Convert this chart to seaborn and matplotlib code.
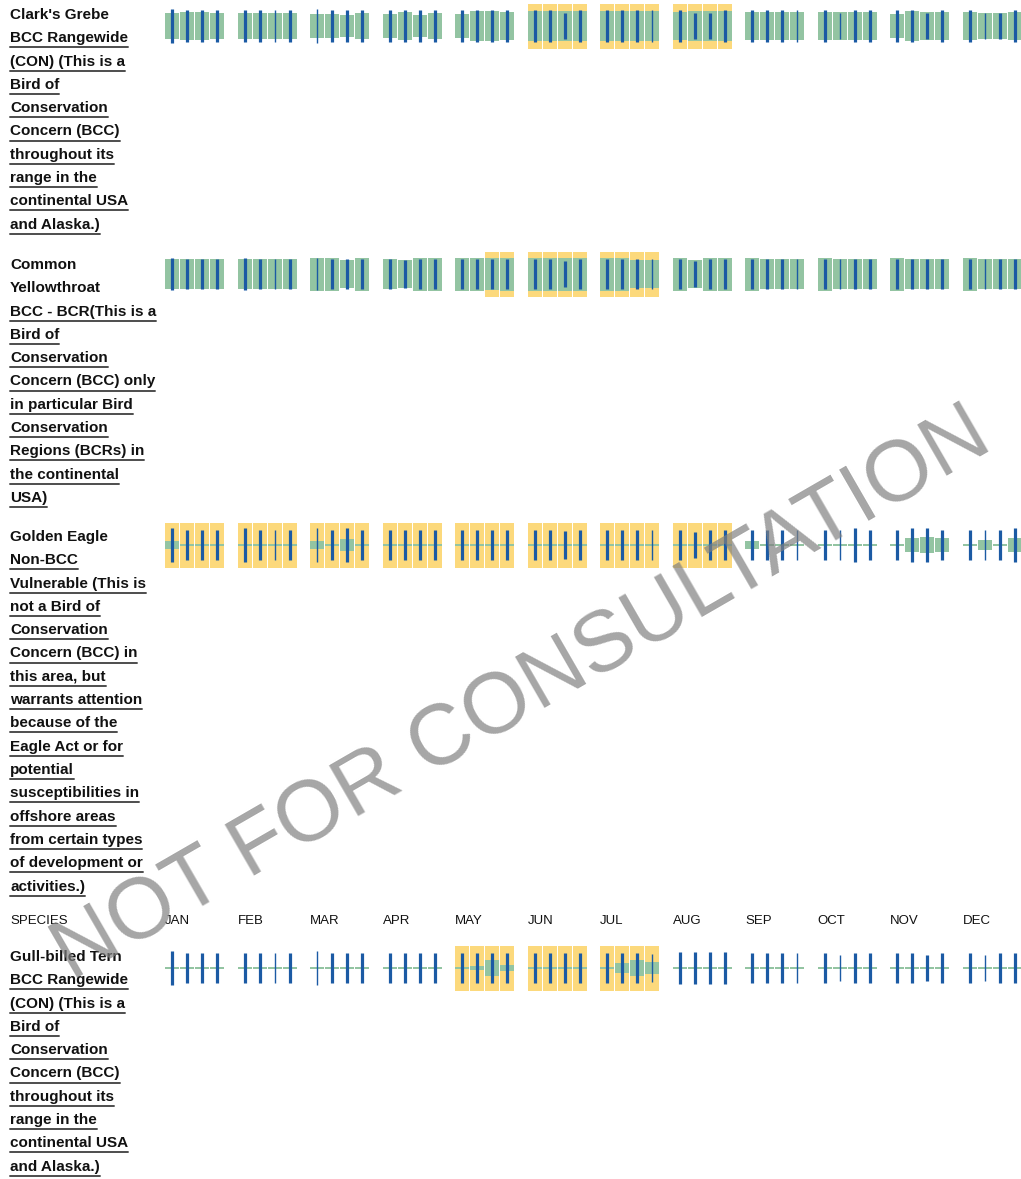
import numpy as np
import matplotlib
matplotlib.use("Agg")
import matplotlib.pyplot as plt
import seaborn as sns
from matplotlib.lines import Line2D

sns.set_theme(style="white")
plt.rcParams["font.family"] = ["Liberation Sans", "DejaVu Sans"]

# --- Data ---
months = ["JAN", "FEB", "MAR", "APR", "MAY", "JUN",
          "JUL", "AUG", "SEP", "OCT", "NOV", "DEC"]

clarks_label = ["Clark's Grebe", "BCC Rangewide", "(CON) (This is a", "Bird of",
                "Conservation", "Concern (BCC)", "throughout its", "range in the",
                "continental USA", "and Alaska.)"]
yellowthroat_label = ["Common", "Yellowthroat", "BCC - BCR(This is a", "Bird of",
                      "Conservation", "Concern (BCC) only", "in particular Bird",
                      "Conservation", "Regions (BCRs) in", "the continental", "USA)"]
eagle_label = ["Golden Eagle", "Non-BCC", "Vulnerable (This is", "not a Bird of",
               "Conservation", "Concern (BCC) in", "this area, but",
               "warrants attention", "because of the", "Eagle Act or for",
               "potential", "susceptibilities in", "offshore areas",
               "from certain types", "of development or", "activities.)"]
tern_label = ["Gull-billed Tern", "BCC Rangewide", "(CON) (This is a", "Bird of",
              "Conservation", "Concern (BCC)", "throughout its", "range in the",
              "continental USA", "and Alaska.)"]

# probability of presence per week (0-10)
clarks_presence = [7.8, 8.2, 8.5, 7.8,  7.6, 7.6, 7.6, 7.6,  7.4, 7.4, 6.4, 7.6,
                   7.4, 8.4, 6.9, 7.6,  7.4, 8.8, 8.8, 8.3,  9.1, 9.1, 8.8, 9.1,
                   9.1, 9.1, 9.1, 9.1,  8.5, 9.1, 9.1, 9.1,  8.5, 8.5, 8.5, 8.5,
                   8.5, 8.5, 8.5, 8.5,  7.5, 8.8, 8.5, 8.5,  8.5, 8.0, 8.0, 8.5]
yellowthroat_presence = [8.9, 8.9, 8.9, 8.9,  8.9, 8.9, 8.9, 8.9,  10, 10, 8.7, 10,
                         8.9, 8.4, 10, 10,  10, 10, 9.7, 10,  10, 10, 10, 10,
                         10, 10, 8.7, 8.7,  10, 8.7, 10, 10,  10, 8.9, 8.9, 8.9,
                         10, 8.9, 8.9, 8.9,  10, 8.9, 8.9, 8.9,  10, 8.9, 8.9, 8.9]
eagle_presence = [2.7, 0.8, 0.8, 0.8,  0.8, 0.8, 0.8, 0.8,  2.7, 0.8, 3.6, 0.8,
                  0.8, 0.8, 0.8, 0.8,  0.8, 0.8, 0.8, 0.8,  0.8, 0.8, 0.8, 0.8,
                  0.8, 0.8, 0.8, 0.8,  0.8, 0.8, 0.8, 0.8,  2.7, 0.8, 0.8, 0.8,
                  0.8, 0.8, 0.8, 0.8,  0.8, 4.0, 5.0, 4.0,  0.8, 3.0, 0.8, 4.0]
tern_presence = [0.8, 0.8, 0.8, 0.8,  0.8, 0.8, 0.8, 0.8,  0.8, 0.8, 0.8, 0.8,
                 0.8, 0.8, 0.8, 0.8,  0.8, 1.5, 5.0, 2.0,  0.8, 0.8, 0.8, 0.8,
                 0.8, 3.0, 4.8, 3.6,  0.8, 0.8, 0.8, 0.8,  0.8, 0.8, 0.8, 0.8,
                 0.8, 0.8, 0.8, 0.8,  0.8, 0.8, 0.8, 0.8,  0.8, 0.8, 0.8, 0.8]

# breeding season weeks (1 = breeding)
clarks_breeding = [0, 0, 0, 0,  0, 0, 0, 0,  0, 0, 0, 0,  0, 0, 0, 0,
                   0, 0, 0, 0,  1, 1, 1, 1,  1, 1, 1, 1,  1, 1, 1, 1,
                   0, 0, 0, 0,  0, 0, 0, 0,  0, 0, 0, 0,  0, 0, 0, 0]
yellowthroat_breeding = [0, 0, 0, 0,  0, 0, 0, 0,  0, 0, 0, 0,  0, 0, 0, 0,
                         0, 0, 1, 1,  1, 1, 1, 1,  1, 1, 1, 1,  0, 0, 0, 0,
                         0, 0, 0, 0,  0, 0, 0, 0,  0, 0, 0, 0,  0, 0, 0, 0]
eagle_breeding = [1, 1, 1, 1,  1, 1, 1, 1,  1, 1, 1, 1,  1, 1, 1, 1,
                  1, 1, 1, 1,  1, 1, 1, 1,  1, 1, 1, 1,  1, 1, 1, 1,
                  0, 0, 0, 0,  0, 0, 0, 0,  0, 0, 0, 0,  0, 0, 0, 0]
tern_breeding = [0, 0, 0, 0,  0, 0, 0, 0,  0, 0, 0, 0,  0, 0, 0, 0,
                 1, 1, 1, 1,  1, 1, 1, 1,  1, 1, 1, 1,  0, 0, 0, 0,
                 0, 0, 0, 0,  0, 0, 0, 0,  0, 0, 0, 0,  0, 0, 0, 0]

# survey effort per week (0-10)
clarks_effort = [10.3, 9.4, 9.4, 9.4,  9.4, 9.4, 9.4, 9.4,  10.3, 9.4, 9.4, 9.4,
                 9.4, 9.4, 9.4, 9.4,  9.4, 9.4, 9.4, 9.4,  9.4, 9.4, 7.6, 9.4,
                 9.4, 9.4, 9.4, 9.4,  9.4, 7.6, 7.6, 9.4,  9.4, 9.4, 9.4, 9.4,
                 9.4, 7.6, 9.4, 9.4,  9.4, 9.4, 7.6, 9.4,  9.4, 7.6, 7.6, 9.4]
yellowthroat_effort = [9.9, 8.9, 8.9, 8.9,  9.9, 8.9, 8.9, 8.9,  9.9, 8.9, 8.9, 8.9,
                       8.9, 8.4, 8.9, 8.9,  8.9, 8.9, 8.9, 8.9,  8.9, 8.9, 7.8, 8.9,
                       8.9, 8.9, 8.9, 8.9,  8.9, 8.1, 8.9, 8.9,  8.9, 8.9, 8.9, 8.9,
                       8.9, 8.9, 8.9, 8.9,  8.9, 8.9, 8.9, 8.9,  8.9, 8.9, 8.9, 8.9]
eagle_effort = [10.1, 8.9, 8.9, 8.9,  10.1, 8.9, 8.9, 8.9,  10.1, 8.9, 10.1, 8.9,
                8.9, 8.9, 8.9, 8.9,  8.9, 8.9, 8.9, 8.9,  8.9, 8.9, 8.4, 8.9,
                8.9, 8.9, 8.9, 8.9,  8.9, 8.0, 8.9, 8.9,  8.9, 8.9, 8.9, 8.9,
                8.9, 8.9, 10.1, 8.9,  8.9, 10.1, 10.1, 8.9,  8.9, 8.9, 8.9, 10.1]
tern_effort = [10.1, 9.1, 9.1, 9.1,  9.1, 9.1, 9.1, 9.1,  10.1, 9.1, 9.1, 9.1,
               9.1, 9.1, 9.1, 9.1,  9.1, 9.1, 9.1, 9.1,  9.1, 9.1, 9.1, 9.1,
               9.1, 9.1, 9.1, 8.5,  9.4, 9.4, 9.4, 9.4,  9.1, 9.1, 9.1, 9.1,
               9.1, 8.1, 9.1, 9.1,  9.1, 9.1, 7.6, 9.1,  9.1, 8.1, 9.1, 9.1]

# weeks with few surveys (thin effort line)
thin_effort_weeks = [6, 8, 27, 35, 37, 45]

# --- Layout / style ---
W, H = 1021, 1179
GREEN = "#93c4a2"
YELLOW = "#fcd97c"
BLUE = "#1b5aa4"
PX = 3.3             # pixels per unit of presence / effort
CELL_H = 45          # breeding cell height in px
month_step = 72.5 / 15

species = [
    (clarks_label, clarks_presence, clarks_breeding, clarks_effort, 26, 15),
    (yellowthroat_label, yellowthroat_presence, yellowthroat_breeding,
     yellowthroat_effort, 274, 265),
    (eagle_label, eagle_presence, eagle_breeding, eagle_effort, 545, 537),
    (tern_label, tern_presence, tern_breeding, tern_effort, 968, 957),
]
name_lines = [1, 2, 1, 1]

fig = plt.figure(figsize=(W / 100, H / 100), dpi=100)
ax = fig.add_axes([0, 0, 1, 1])
ax.set_xlim(-(165 + 7.15) / 15, (W - 172.15) / 15)
ax.set_ylim(H, 0)
ax.axis("off")

week_x = np.array([m * month_step + w for m in range(12) for w in range(4)])
line_w = np.array([1.0 if i in thin_effort_weeks else 2.3 for i in range(48)])

texts = []
for (label, pres, breed, effort, yc, ytop), n_name in zip(species, name_lines):
    breed = np.array(breed, bool)
    ax.bar(week_x[breed], CELL_H, width=0.95, bottom=yc - CELL_H / 2,
           color=YELLOW, linewidth=0, zorder=1)
    h = np.array(pres) * PX
    ax.bar(week_x, h, width=0.95, bottom=yc - h / 2,
           color=GREEN, linewidth=0, zorder=2)
    e = np.array(effort) * PX
    ax.vlines(week_x, yc - e / 2, yc + e / 2, colors=BLUE,
              linewidths=line_w, zorder=3)
    for j, line in enumerate(label):
        y = ytop + j * 23.3
        t = fig.text(10 / W, 1 - y / H, line, ha="left", va="center",
                     fontsize=11, fontweight="bold", color="#111111")
        texts.append((t, y, j >= n_name))

# header row
fig.text(10 / W, 1 - 921 / H, "SPECIES", ha="left", va="center",
         fontsize=9.5, color="#111111")
for m, name in enumerate(months):
    ax.text(week_x[m * 4] - 0.475, 921, name, ha="left", va="center",
            fontsize=9.5, color="#111111")

# underlines under the link text
renderer = fig.canvas.get_renderer()
inv = fig.transFigure.inverted()
for t, y, underline in texts:
    if not underline:
        continue
    bb = t.get_window_extent(renderer)
    x0, _ = inv.transform((bb.x0, 0))
    x1, _ = inv.transform((bb.x1, 0))
    yy = 1 - (y + 9) / H
    fig.add_artist(Line2D([x0, x1], [yy, yy], color="#4d4d4d", lw=1.4))

# watermark
fig.text(522 / W, 1 - 695 / H, "NOT FOR CONSULTATION", rotation=30,
         rotation_mode="anchor", ha="center", va="center", fontsize=62,
         color="#808080", alpha=0.7, zorder=10)

fig.savefig("out.png", dpi=100)
